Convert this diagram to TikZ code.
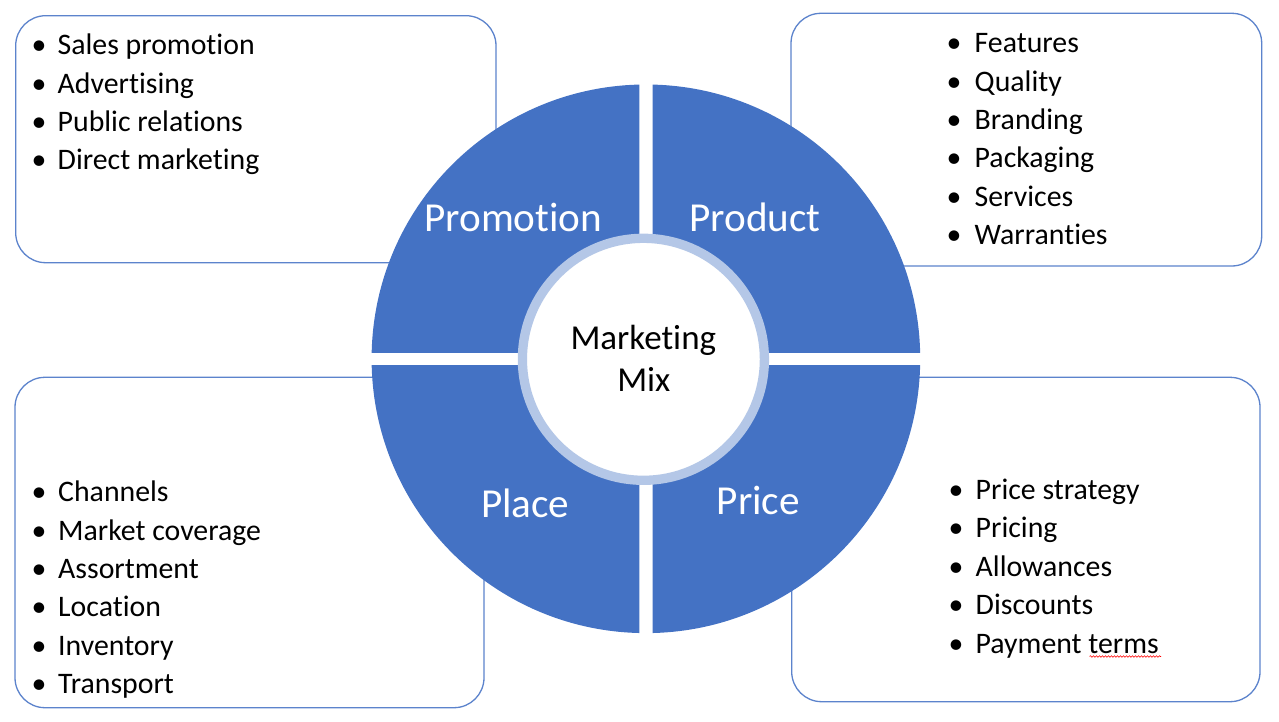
\documentclass[tikz,border=0pt]{standalone}
\usepackage{fontspec}
\setmainfont{Carlito}[Ligatures={NoCommon,NoContextual}]
\usetikzlibrary{decorations.pathmorphing}
\definecolor{quadblue}{RGB}{68,114,196}
\definecolor{ringblue}{RGB}{180,199,231}
\definecolor{boxline}{RGB}{92,131,204}
\tikzset{
  listbox/.style={draw=boxline, line width=1.3pt, fill=white, rounded corners=30pt},
  quadfill/.style={fill=quadblue},
  itemtext/.style={inner sep=0pt, anchor=base west, font=\fontsize{29.8}{35}\selectfont},
  bulletmark/.style={inner sep=0pt, anchor=base, font=\fontsize{29.8}{35}\selectfont},
  quadlabel/.style={inner sep=0pt, anchor=base, text=white, font=\fontsize{41.2}{48}\selectfont},
  centerlabel/.style={inner sep=0pt, anchor=base, font=\fontsize{35}{42}\selectfont},
}
\begin{document}
\begin{tikzpicture}[x=1pt,y=-1pt]
\useasboundingbox (0,0) rectangle (1279,722);
% boxes
\draw[listbox] (15.7,15.7) rectangle (496,262.7);
\draw[listbox] (791,13.3) rectangle (1261.7,266);
\draw[listbox] (15,377.3) rectangle (484,707.7);
\draw[listbox] (791.7,377.3) rectangle (1260,701.7);
% lists
\foreach \t [count=\i] in {Sales promotion, Advertising, Public relations, Direct marketing}{
  \pgfmathsetmacro\yy{55+38.33*(\i-1)}
  \node[bulletmark] (tlb\i) at (39,\yy) {\textbullet};
  \node[itemtext] (tl\i) at (57.5,\yy) {\t};
}
\foreach \t [count=\i] in {Features, Quality, Branding, Packaging, Services, Warranties}{
  \pgfmathsetmacro\yy{52.7+38.33*(\i-1)}
  \node[bulletmark] (trb\i) at (954,\yy) {\textbullet};
  \node[itemtext] (tr\i) at (974.5,\yy) {\t};
}
\foreach \t [count=\i] in {Channels, Market coverage, Assortment, Location, Inventory, Transport}{
  \pgfmathsetmacro\yy{501.7+38.33*(\i-1)}
  \node[bulletmark] (blb\i) at (39,\yy) {\textbullet};
  \node[itemtext] (bl\i) at (58,\yy) {\t};
}
\foreach \t [count=\i] in {Price strategy, Pricing, Allowances, Discounts, Payment terms}{
  \pgfmathsetmacro\yy{499.3+38.5*(\i-1)}
  \node[bulletmark] (brb\i) at (956,\yy) {\textbullet};
  \node[itemtext] (br\i) at (975.5,\yy) {\t};
}
\draw[red, line width=0.6pt, decorate, decoration={snake, amplitude=0.8pt, segment length=3pt}] (1089.5,656.5) -- (1161,656.5);
% quadrants
\def\cx{645.9}\def\cy{358.8}\def\R{274.3pt}\def\g{6.6}
\begin{scope}
  \clip (\cx+\g,\cy-\g) rectangle (930,70);
  \fill[quadfill] (\cx,\cy) circle (\R);
\end{scope}
\begin{scope}
  \clip (\cx-\g,\cy-\g) rectangle (360,70);
  \fill[quadfill] (\cx,\cy) circle (\R);
\end{scope}
\begin{scope}
  \clip (\cx-\g,\cy+\g) rectangle (360,650);
  \fill[quadfill] (\cx,\cy) circle (\R);
\end{scope}
\begin{scope}
  \clip (\cx+\g,\cy+\g) rectangle (930,650);
  \fill[quadfill] (\cx,\cy) circle (\R);
\end{scope}
% center ring
\draw[draw=ringblue, line width=9.3pt, fill=white] (643.4,359.3) circle (121pt);
% labels
\node[quadlabel] (promo) at (513.3,231) {Promotion};
\node[quadlabel] (prod) at (755,231) {Product};
\node[quadlabel] (place) at (525.2,517.3) {Place};
\node[quadlabel] (price) at (758.3,514.3) {Price};
\node[centerlabel] (mk1) at (643.3,349.3) {Marketing};
\node[centerlabel] (mk2) at (643.8,391.7) {Mix};
\end{tikzpicture}
\end{document}
